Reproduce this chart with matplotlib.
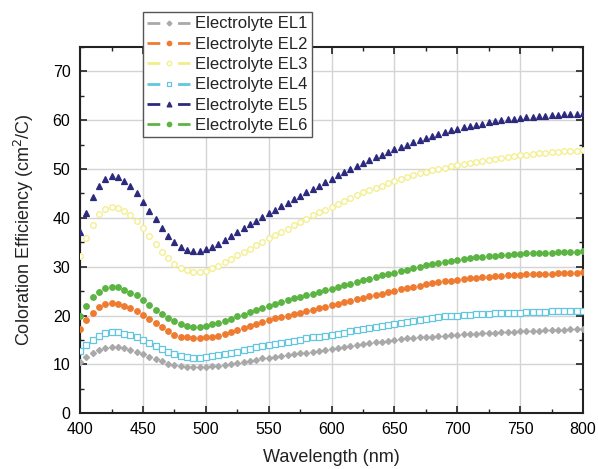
import numpy as np
import matplotlib
matplotlib.use('Agg')
import matplotlib.pyplot as plt
from matplotlib.lines import Line2D
from matplotlib.ticker import MultipleLocator

plt.rcParams['font.family'] = ['Liberation Sans', 'DejaVu Sans']

wavelength = np.arange(400, 801, 5)

el1 = [10.4, 11.5, 12.3, 13.0, 13.4, 13.6, 13.5, 13.3, 12.9, 12.5, 12.1, 11.5, 11.1, 10.6, 10.1, 9.8, 9.6, 9.5, 9.4, 9.4, 9.5, 9.6, 9.7, 9.9, 10.0,
       10.2, 10.5, 10.7, 10.9, 11.2, 11.4, 11.6, 11.8, 11.9, 12.1, 12.3, 12.4, 12.6, 12.8, 12.9, 13.1, 13.3, 13.5, 13.7, 13.9, 14.1,
       14.3, 14.5, 14.6, 14.8, 15.0, 15.1, 15.3, 15.4, 15.5, 15.6, 15.7, 15.8, 15.9, 16.0, 16.1, 16.2, 16.3, 16.3, 16.4, 16.5,
       16.5, 16.6, 16.6, 16.7, 16.8, 16.8, 16.9, 16.9, 17.0, 17.0, 17.1, 17.1, 17.2, 17.2, 17.3]
el2 = [17.3, 19.1, 20.6, 21.7, 22.3, 22.5, 22.4, 22.0, 21.5, 20.9, 20.1, 19.3, 18.5, 17.6, 16.8, 16.1, 15.7, 15.5, 15.3, 15.3, 15.5, 15.6, 15.9, 16.3, 16.7,
       17.1, 17.5, 17.9, 18.3, 18.7, 19.1, 19.4, 19.7, 20.0, 20.3, 20.6, 20.9, 21.2, 21.5, 21.8, 22.1, 22.4, 22.7, 23.0, 23.3, 23.6,
       23.9, 24.2, 24.5, 24.8, 25.1, 25.4, 25.6, 25.9, 26.1, 26.4, 26.6, 26.8, 27.0, 27.1, 27.3, 27.4, 27.6, 27.7, 27.8, 27.9,
       28.0, 28.1, 28.2, 28.2, 28.3, 28.4, 28.4, 28.5, 28.6, 28.6, 28.7, 28.7, 28.8, 28.8, 28.9]
el3 = [32.2, 35.9, 38.6, 40.7, 41.8, 42.3, 42.1, 41.5, 40.6, 39.3, 37.9, 36.2, 34.6, 33.0, 31.7, 30.6, 29.8, 29.3, 29.0, 28.9, 29.2, 29.7, 30.2, 30.9, 31.6,
       32.3, 33.0, 33.7, 34.4, 35.1, 35.8, 36.5, 37.2, 37.8, 38.5, 39.2, 39.8, 40.5, 41.1, 41.7, 42.3, 42.9, 43.5, 44.1, 44.6, 45.2,
       45.7, 46.1, 46.6, 47.1, 47.5, 47.9, 48.3, 48.7, 49.1, 49.4, 49.7, 50.0, 50.3, 50.6, 50.8, 51.0, 51.3, 51.5, 51.7, 51.9,
       52.1, 52.3, 52.5, 52.6, 52.8, 52.9, 53.1, 53.2, 53.3, 53.4, 53.5, 53.6, 53.7, 53.7, 53.8]
el4 = [12.7, 13.9, 15.0, 15.9, 16.5, 16.7, 16.6, 16.3, 16.0, 15.6, 15.0, 14.4, 13.7, 13.2, 12.5, 12.1, 11.7, 11.5, 11.4, 11.4, 11.5, 11.7, 11.9, 12.1, 12.3,
       12.6, 12.9, 13.2, 13.5, 13.7, 14.0, 14.2, 14.4, 14.6, 14.8, 15.0, 15.3, 15.5, 15.7, 15.9, 16.1, 16.3, 16.5, 16.8, 17.0, 17.2,
       17.4, 17.7, 17.9, 18.1, 18.3, 18.5, 18.7, 18.9, 19.1, 19.3, 19.5, 19.6, 19.8, 19.9, 20.0, 20.1, 20.2, 20.3, 20.3, 20.4,
       20.5, 20.5, 20.6, 20.6, 20.6, 20.7, 20.7, 20.8, 20.8, 20.9, 20.9, 20.9, 21.0, 21.0, 21.0]
el5 = [37.1, 41.0, 44.2, 46.5, 47.9, 48.5, 48.3, 47.5, 46.5, 45.0, 43.3, 41.5, 39.7, 37.9, 36.3, 35.0, 34.1, 33.5, 33.2, 33.3, 33.7, 34.1, 34.7, 35.5, 36.3,
       37.1, 37.9, 38.7, 39.4, 40.2, 40.9, 41.7, 42.4, 43.1, 43.8, 44.5, 45.2, 45.9, 46.6, 47.3, 48.0, 48.7, 49.3, 50.0, 50.6, 51.2,
       51.8, 52.4, 52.9, 53.5, 54.0, 54.5, 55.0, 55.5, 55.9, 56.3, 56.8, 57.2, 57.5, 57.9, 58.2, 58.5, 58.8, 59.1, 59.3, 59.6,
       59.8, 60.0, 60.2, 60.3, 60.5, 60.6, 60.7, 60.8, 60.9, 61.0, 61.1, 61.2, 61.3, 61.3, 61.4]
el6 = [19.9, 22.0, 23.7, 24.9, 25.6, 25.9, 25.8, 25.3, 24.7, 24.1, 23.2, 22.1, 21.2, 20.3, 19.5, 18.8, 18.3, 17.9, 17.7, 17.7, 17.9, 18.2, 18.5, 18.9, 19.3,
       19.8, 20.2, 20.7, 21.1, 21.6, 22.0, 22.4, 22.8, 23.1, 23.5, 23.8, 24.2, 24.5, 24.8, 25.2, 25.5, 25.8, 26.2, 26.5, 26.9, 27.2,
       27.5, 27.9, 28.2, 28.5, 28.8, 29.1, 29.4, 29.7, 30.0, 30.3, 30.5, 30.8, 31.0, 31.2, 31.4, 31.6, 31.7, 31.9, 32.0, 32.1,
       32.2, 32.3, 32.4, 32.5, 32.6, 32.7, 32.8, 32.8, 32.9, 32.9, 33.0, 33.0, 33.1, 33.1, 33.2]

labels = ['Electrolyte EL1', 'Electrolyte EL2', 'Electrolyte EL3',
          'Electrolyte EL4', 'Electrolyte EL5', 'Electrolyte EL6']
series = [el1, el2, el3, el4, el5, el6]

# (color, marker, size, filled)
styles = [('#a9a9a9', 'D', 3.1, True),
          ('#ee7b2f', 'o', 4.0, True),
          ('#f2ee86', 'o', 4.0, False),
          ('#62c6df', 's', 3.7, False),
          ('#2d2a7e', '^', 4.3, True),
          ('#5cb443', 'o', 4.0, True)]

fig = plt.figure(figsize=(5.98, 4.69), dpi=100)
ax = fig.add_axes([0.134, 0.119, 0.841, 0.781])

handles = []
for y, lab, (c, m, s, filled) in zip(series, labels, styles):
    fc = c if filled else 'white'
    ax.plot(wavelength, y, linestyle='none', marker=m, markersize=s,
            markerfacecolor=fc, markeredgecolor=c, markeredgewidth=0.9, zorder=3)
    # legend sample: dash - marker - dash
    handles.append(Line2D([], [], color=c, lw=2, linestyle=(0, (4.6, 6.4)), marker=m,
                          markersize=s * 0.8, markerfacecolor=fc,
                          markeredgecolor=c, markeredgewidth=0.9))

ax.set_xlim(400, 800)
ax.set_ylim(0, 75)
ax.xaxis.set_major_locator(MultipleLocator(50))
ax.xaxis.set_minor_locator(MultipleLocator(25))
ax.yaxis.set_major_locator(MultipleLocator(10))
ax.yaxis.set_minor_locator(MultipleLocator(5))
ax.tick_params(which='both', direction='in', top=True, right=True, labelsize=11.5, color='#222222')
ax.tick_params(axis='x', pad=6)
ax.tick_params(axis='y', pad=7)
ax.tick_params(which='major', length=5, width=1.2)
ax.tick_params(which='minor', length=3, width=1.0)
ax.grid(True, which='major', color='#d4d4d4', linewidth=1)
ax.set_axisbelow(True)
for sp in ax.spines.values():
    sp.set_linewidth(1.5)
    sp.set_color('#222222')

ax.set_xlabel('Wavelength (nm)', fontsize=13, color='#222222', labelpad=9)
ax.set_ylabel('Coloration Efficiency (cm$^2$/C)', fontsize=13, color='#222222', labelpad=12)

leg = ax.legend(handles, labels, loc='upper left', bbox_to_anchor=(0.239, 0.974),
                bbox_transform=fig.transFigure, fontsize=12, fancybox=False,
                framealpha=1, edgecolor='#555555', handlelength=2.6,
                handletextpad=0.3, labelspacing=0.32, borderpad=0.25,
                borderaxespad=0, numpoints=1)
leg.get_frame().set_linewidth(1.0)
leg.set_zorder(5)
for t in leg.get_texts():
    t.set_color('#222222')

fig.savefig('out.png', dpi=100)
